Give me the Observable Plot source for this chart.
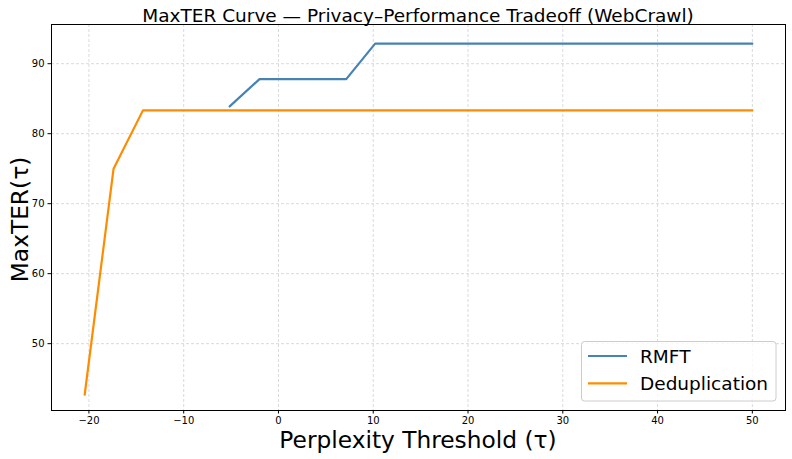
<!DOCTYPE html>
<html><head><meta charset="utf-8">
<script src="https://cdn.jsdelivr.net/npm/d3@7"></script>
<script src="https://cdn.jsdelivr.net/npm/@observablehq/plot@0.6"></script>
<style>body{margin:0;background:#fff;font-family:"DejaVu Sans",sans-serif}</style>
</head><body><div id="chart"></div>
<script>
const rmftX = [-5.15, -2.0, 7.15, 10.2, 50];
const rmftY = [83.9, 87.8, 87.8, 92.86, 92.86];
const dedupX = [-20.45, -17.4, -14.3, 50];
const dedupY = [42.7, 75.0, 83.33, 83.33];
const xTicks = [-20, -10, 0, 10, 20, 30, 40, 50];
const yTicks = [50, 60, 70, 80, 90];
const seriesNames = ["RMFT", "Deduplication"];
const seriesColors = ["#4682b4", "#ff8c00"];

const rows = [
  ...rmftX.map((x, i) => ({x, y: rmftY[i], s: "RMFT"})),
  ...dedupX.map((x, i) => ({x, y: dedupY[i], s: "Deduplication"}))
];

const W = 792, H = 459;
const plot = Plot.plot({
  width: W, height: H,
  marginLeft: 51, marginRight: 7, marginTop: 24, marginBottom: 49,
  style: {fontFamily: "DejaVu Sans, sans-serif", fontSize: "10px", background: "#fff", color: "#000"},
  x: {domain: [-23.95, 53.5], ticks: xTicks, label: null},
  y: {domain: [40.45, 95.6], ticks: yTicks, label: null},
  color: {domain: seriesNames, range: seriesColors},
  marks: [
    Plot.gridX(xTicks, {stroke: "#b0b0b0", strokeOpacity: 0.6, strokeDasharray: "3,2", strokeWidth: 0.8}),
    Plot.gridY(yTicks, {stroke: "#b0b0b0", strokeOpacity: 0.6, strokeDasharray: "3,2", strokeWidth: 0.8}),
    Plot.axisX(xTicks, {tickSize: 3.5, tickPadding: 3, tickFormat: d => d < 0 ? "\u2212" + Math.abs(d) : String(d), fontSize: 10, label: null}),
    Plot.axisY(yTicks, {tickSize: 3.5, tickPadding: 3.5, fontSize: 10, label: null}),
    Plot.line(rows, {x: "x", y: "y", z: "s", stroke: "s", strokeWidth: 2.2}),
    Plot.frame({stroke: "#000", strokeWidth: 1})
  ]
});
document.getElementById("chart").appendChild(plot);

const svg = d3.select(plot);
svg.append("text").attr("x", 418).attr("y", 22).attr("text-anchor", "middle")
  .style("font-size", "18.5px").style("font-family", "DejaVu Sans, sans-serif").text("MaxTER Curve \u2014 Privacy\u2013Performance Tradeoff (WebCrawl)");
svg.append("text").attr("x", 418).attr("y", 447.5).attr("text-anchor", "middle")
  .style("font-size", "23.3px").style("font-family", "DejaVu Sans, sans-serif").text("Perplexity Threshold (\u03c4)");
svg.append("text").attr("transform", "translate(27.5,219.5) rotate(-90)").attr("text-anchor", "middle")
  .style("font-size", "23.3px").style("font-family", "DejaVu Sans, sans-serif").text("MaxTER(\u03c4)");

const lg = svg.append("g").attr("text-anchor", "start");
lg.append("rect").attr("x", 581.5).attr("y", 341.5).attr("width", 194.5).attr("height", 59.5)
  .attr("rx", 3).attr("fill", "#fff").attr("fill-opacity", 0.8).attr("stroke", "#ccc");
seriesNames.forEach((n, i) => {
  const yy = 356 + i * 27.3;
  lg.append("line").attr("x1", 588).attr("x2", 627).attr("y1", yy).attr("y2", yy)
    .attr("stroke", seriesColors[i]).attr("stroke-width", 2.2);
  lg.append("text").attr("x", 640).attr("y", yy + 6.5).attr("text-anchor", "start").style("font-size", "18.5px")
    .style("font-family", "DejaVu Sans, sans-serif").text(n);
});
</script></body></html>
